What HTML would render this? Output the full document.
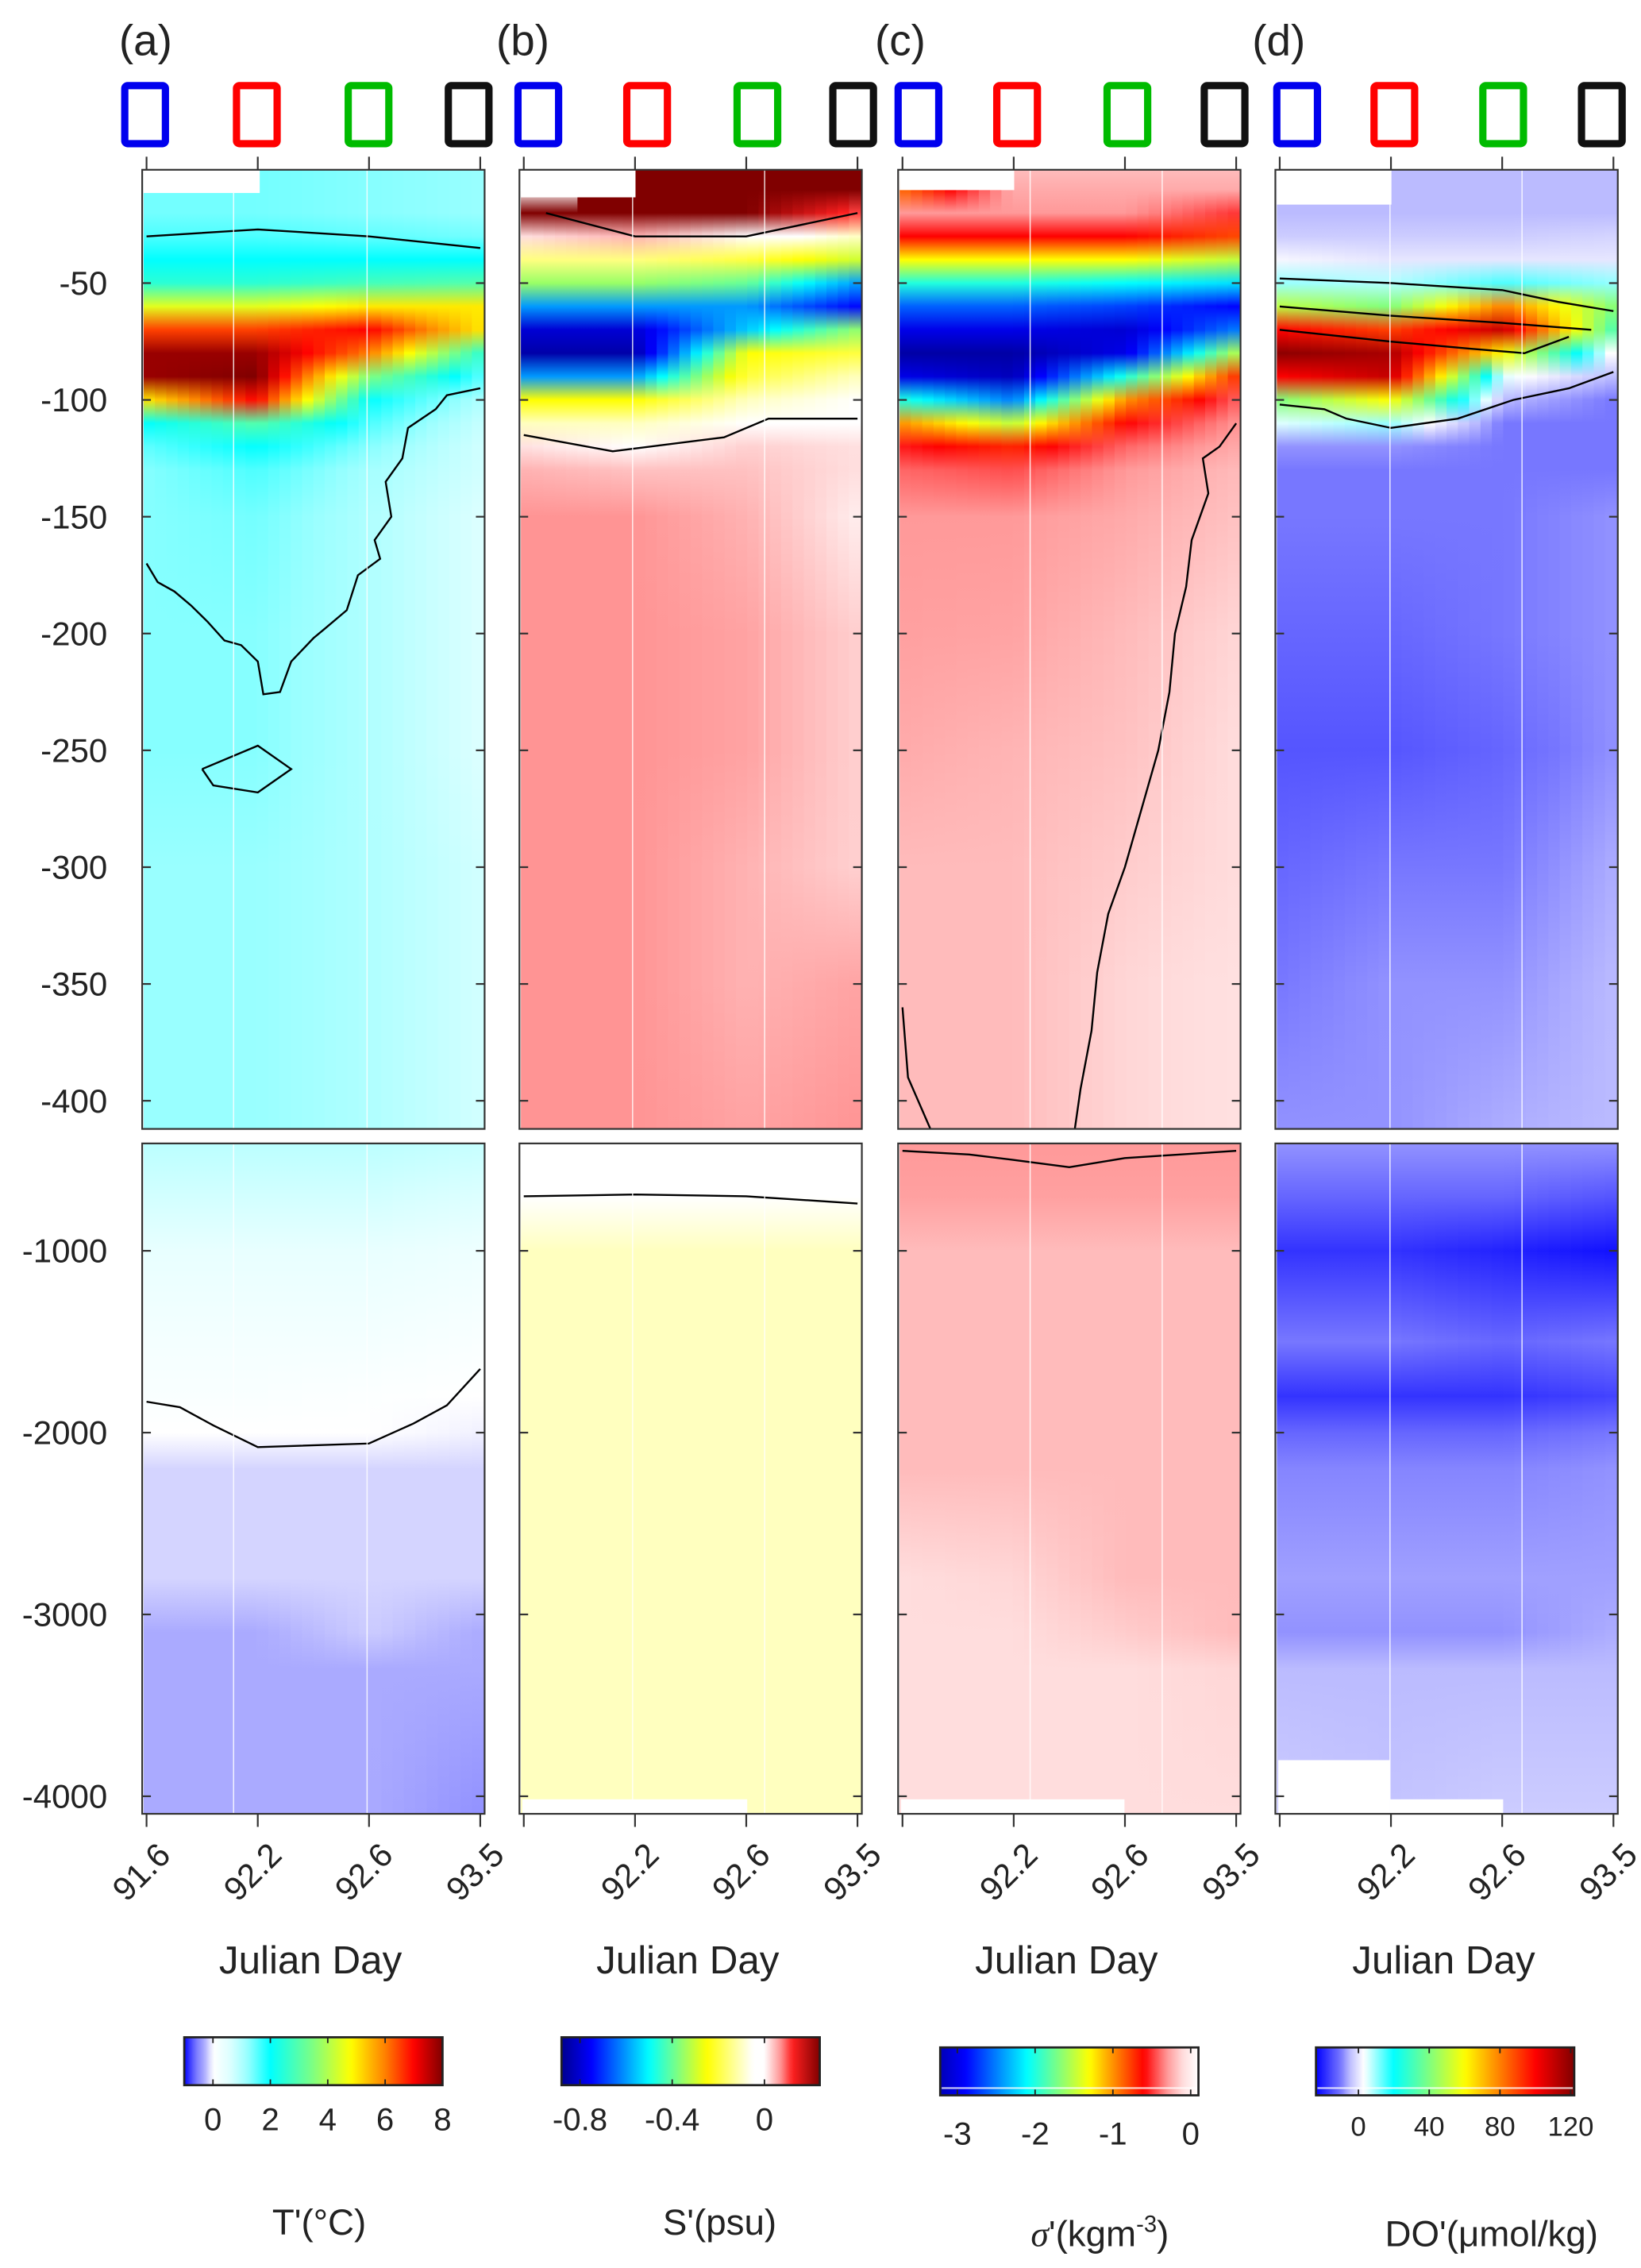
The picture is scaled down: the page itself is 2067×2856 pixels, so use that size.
<!DOCTYPE html>
<html><head><meta charset="utf-8"><style>
html,body{margin:0;padding:0;background:#fff;}
svg{display:block;font-family:"Liberation Sans","DejaVu Sans",sans-serif;}
</style></head><body>
<svg id="fig" xmlns="http://www.w3.org/2000/svg" width="2067" height="2856" viewBox="0 0 1131 1563" preserveAspectRatio="none">
<defs id="defs"></defs>
</svg>
<script>
// ---------- data ----------
const dayTicks = ['91.6','92.2','92.6','93.5'];
const topDepths = [2,10,20,30,40,50,60,70,80,90,100,110,120,130,150,200,250,300,350,412];
const botDepths = [410,700,1000,1500,1800,2000,2200,2800,3100,3300,4100];
const topYTicks = [-50,-100,-150,-200,-250,-300,-350,-400];
const botYTicks = [-1000,-2000,-3000,-4000];
const panelLetters = ['(a)','(b)','(c)','(d)'];

const tempTop = [
 [null,1.4,1.4,1.6,2,2.5,4.5,6.5,7.8,7.8,5,2,1.5,1.3,1.3,1.3,1.3,1.2,1.2,1.2],
 [1.4,1.4,1.4,1.6,2,2.5,4.5,6.5,7.8,8,7,3,2,1.6,1.4,1.3,1.3,1.2,1.2,1.2],
 [1.3,1.3,1.3,1.5,2,2.8,5,7,6,3.5,2,1.6,1.3,1.1,1.0,1.0,1.0,1.0,1.0,1.0],
 [1.2,1.2,1.2,1.4,2,3,5,5,2.5,1.5,1.0,0.8,0.7,0.7,0.6,0.6,0.6,0.7,0.7,0.7]];
const tempBot = [
 [0.9,0.7,0.4,0.2,0.1,0,-0.15,-0.15,-0.3,-0.3,-0.3],
 [0.9,0.7,0.4,0.2,0.1,0,-0.15,-0.15,-0.3,-0.3,-0.3],
 [0.9,0.7,0.4,0.2,0.05,0,-0.15,-0.15,-0.18,-0.3,-0.3],
 [0.8,0.6,0.3,0.1,0.0,-0.05,-0.15,-0.15,-0.3,-0.3,-0.45]];
const saltTop = [
 [null,null,0.24,0.02,-0.15,-0.35,-0.6,-0.8,-0.85,-0.6,-0.25,-0.1,0.02,0.05,0.07,0.07,0.07,0.07,0.07,0.07],
 [0.24,0.24,0.24,0.05,-0.15,-0.35,-0.6,-0.8,-0.85,-0.6,-0.25,-0.1,0.0,0.04,0.07,0.07,0.07,0.07,0.07,0.07],
 [0.24,0.24,0.24,0.0,-0.2,-0.4,-0.6,-0.55,-0.25,-0.2,-0.1,-0.05,0.03,0.04,0.05,0.06,0.06,0.05,0.05,0.06],
 [0.24,0.24,0.1,-0.1,-0.3,-0.6,-0.75,-0.35,-0.2,-0.1,-0.05,-0.05,0.02,0.02,0.01,0.03,0.03,0.03,0.06,0.07]];
const saltBot = [
 [0,-0.02,-0.1,-0.1,-0.1,-0.1,-0.1,-0.1,-0.1,-0.1,-0.1],
 [0,-0.02,-0.1,-0.1,-0.1,-0.1,-0.1,-0.1,-0.1,-0.1,-0.1],
 [0,-0.02,-0.1,-0.1,-0.1,-0.1,-0.1,-0.1,-0.1,-0.1,-0.1],
 [0,-0.02,-0.1,-0.1,-0.1,-0.1,-0.1,-0.1,-0.1,-0.1,-0.1]];
const sigTop = [
 [null,-0.9,-0.3,-0.6,-1.3,-2.0,-2.6,-3.0,-3.3,-3.0,-2.0,-1.0,-0.55,-0.4,-0.3,-0.28,-0.25,-0.2,-0.2,-0.2],
 [-0.2,-0.25,-0.3,-0.6,-1.3,-2.0,-2.6,-3.0,-3.3,-3.2,-2.5,-1.5,-0.7,-0.45,-0.3,-0.27,-0.22,-0.2,-0.2,-0.2],
 [-0.2,-0.25,-0.3,-0.6,-1.3,-2.1,-2.7,-3.1,-3.0,-2.0,-1.0,-0.6,-0.4,-0.3,-0.25,-0.2,-0.18,-0.15,-0.12,-0.12],
 [-0.2,-0.25,-0.5,-0.8,-1.5,-2.2,-2.9,-2.5,-1.5,-0.7,-0.4,-0.3,-0.25,-0.2,-0.18,-0.12,-0.1,-0.1,-0.08,-0.08]];
const sigBot = [
 [-0.3,-0.28,-0.2,-0.2,-0.2,-0.2,-0.2,-0.1,-0.1,-0.1,-0.1],
 [-0.3,-0.28,-0.2,-0.2,-0.2,-0.2,-0.2,-0.12,-0.1,-0.1,-0.1],
 [-0.3,-0.28,-0.2,-0.2,-0.2,-0.2,-0.2,-0.2,-0.15,-0.1,-0.1],
 [-0.3,-0.28,-0.2,-0.2,-0.2,-0.2,-0.2,-0.2,-0.2,-0.12,-0.1]];
const doTop = [
 [null,-5,-5,-3,2,10,50,100,120,100,40,5,-8,-10,-10,-12,-14,-12,-10,-8],
 [-5,-5,-5,-3,0,8,40,90,115,110,60,10,-8,-10,-10,-12,-14,-10,-8,-8],
 [-5,-5,-5,-3,0,15,80,110,60,5,-5,-10,-10,-10,-10,-10,-12,-10,-8,-6],
 [-5,-5,-5,-2,0,10,40,30,0,-5,-10,-10,-10,-10,-8,-8,-8,-6,-5,-5]];
const doBot = [
 [-8,-12,-18,-10,-18,-12,-9,-7,-8,-5,-3],
 [-8,-12,-18,-10,-18,-12,-9,-7,-8,-5,-4],
 [-8,-12,-20,-12,-18,-12,-9,-7,-8,-5,-3],
 [-8,-14,-22,-10,-16,-10,-8,-7,-6,-5,-3]];

const cmapT = [[-1,'#0000ff'],[-0.6,'#7777ff'],[-0.3,'#aaaaff'],[-0.15,'#d4d4ff'],[0,'#ffffff'],[0.6,'#ddffff'],[1.2,'#99ffff'],[2,'#00ffff'],[3.5,'#80ff80'],[4.8,'#ffff00'],[6,'#ff8000'],[7,'#ff0000'],[8,'#800000']];
const cmapS = [[-0.88,'#00008f'],[-0.75,'#0000ff'],[-0.5,'#00ffff'],[-0.25,'#ffff00'],[-0.05,'#ffffff'],[0,'#ffffff'],[0.03,'#ffd0d0'],[0.07,'#ff9494'],[0.12,'#ff2020'],[0.24,'#800000']];
const cmapC = [[-3.4,'#00008f'],[-2.9,'#0000ff'],[-2.1,'#00ffff'],[-1.3,'#ffff00'],[-0.6,'#ff0000'],[-0.3,'#ff9999'],[-0.2,'#ffbbbb'],[-0.1,'#ffdddd'],[0.1,'#ffffff']];
const cmapD = [[-24,'#0000ff'],[-10,'#7777ff'],[-5,'#bbbbff'],[3,'#ffffff'],[20,'#00ffff'],[60,'#ffff00'],[100,'#ff0000'],[122,'#800000']];

const cbTicksT = [0,2,4,6,8], cbRangeT = [-1,8];
const cbTicksS = [-0.8,-0.4,0], cbRangeS = [-0.88,0.24];
const cbTicksC = [-3,-2,-1,0], cbRangeC = [-3.22,0.1];
const cbTicksD = [0,40,80,120], cbRangeD = [-24,122];

// contours: [column-position (0..3), depth]
const contA1 = [[0,30],[1,27],[2,30],[3,35]];
const contA2 = [[3,95],[2.7,98],[2.6,104],[2.35,112],[2.3,125],[2.15,135],[2.2,150],[2.05,160],[2.1,168],[1.9,175],[1.8,190],[1.6,198],[1.5,202],[1.3,212],[1.2,225],[1.05,226],[1.0,212],[0.85,205],[0.7,203],[0.55,195],[0.4,188],[0.25,182],[0.1,178],[0,170]];
const contA3 = [[0.5,258],[1,248],[1.3,258],[1,268],[0.6,265],[0.5,258]];
const contA4 = [[0,1830],[0.3,1860],[0.6,1960],[1,2080],[2,2060],[2.4,1950],[2.7,1850],[3,1650]];
const contB1 = [[0.2,20],[1,30],[2,30],[3,20]];
const contB2 = [[0,115],[0.8,122],[1.8,116],[2.2,108],[3,108]];
const contB3 = [[0,700],[1,690],[2,700],[3,740]];
const contC1 = [[3,110],[2.85,120],[2.7,125],[2.75,140],[2.6,160],[2.55,180],[2.45,200],[2.4,225],[2.3,250],[2.15,275],[2.0,300],[1.85,320],[1.75,345],[1.7,370],[1.6,395],[1.55,412]];
const contC2 = [[0,360],[0.05,390],[0.25,412]];
const contC3 = [[0,450],[0.6,470],[1,500],[1.5,540],[2,490],[3,450]];
const contD1 = [[0,48],[1,50],[2,53],[2.5,58],[3,62]];
const contD2 = [[0,60],[1,64],[2,67],[2.8,70]];
const contD3 = [[0,70],[1,75],[1.7,78],[2.2,80],[2.6,73]];
const contD4 = [[0,102],[0.4,104],[0.6,108],[1,112],[1.6,108],[2.1,100],[2.6,95],[3,88]];

// ---------- helpers ----------
const NS='http://www.w3.org/2000/svg';
const svg=document.getElementById('fig'), defs=document.getElementById('defs');
function mk(tag,attrs,parent){const e=document.createElementNS(NS,tag);for(const k in attrs)e.setAttribute(k,attrs[k]);(parent||svg).appendChild(e);return e;}
function hex2rgb(h){return [parseInt(h.substr(1,2),16),parseInt(h.substr(3,2),16),parseInt(h.substr(5,2),16)];}
function color(cm,v){
  if(v===null)return '#ffffff';
  if(v<=cm[0][0])return cm[0][1];
  for(let i=1;i<cm.length;i++){if(v<=cm[i][0]){const t=(v-cm[i-1][0])/(cm[i][0]-cm[i-1][0]);const a=hex2rgb(cm[i-1][1]),b=hex2rgb(cm[i][1]);return 'rgb('+a.map((x,j)=>Math.round(x+(b[j]-x)*t)).join(',')+')';}}
  return cm[cm.length-1][1];
}
const panelX=[98,358,619,879], PW=236;
const gridX=[[161,253],[436,527],[710,801],[958,1049]];
const TOP0=117,TOP1=778,BOT0=788,BOT1=1250;
function yTop(d){return 114.6+d*1.61;}
function yBot(d){return 862+(d-1000)*0.1253;}
function xCol(p,u){return panelX[p]+3+u*(PW-6)/3;}
let gid=0;

function drawField(p,cols,depths,yf,cm,y0,y1,name){
  const N=30;
  const x0=panelX[p]+1,x1=panelX[p]+PW-1;
  for(let s=0;s<N;s++){
    const u=(s+0.5)/N*3;const i=Math.min(2,Math.floor(u)),t=u-i;
    const g=mk('linearGradient',{id:'g'+(gid++),gradientUnits:'userSpaceOnUse',x1:0,x2:0,y1:yf(depths[0]),y2:yf(depths[depths.length-1])},defs);
    depths.forEach((d,k)=>{
      const a=cols[i][k],b=cols[i+1][k];
      let v=(a===null||b===null)?((t<0.5?a:b)):a+(b-a)*t;
      const off=(yf(d)-yf(depths[0]))/(yf(depths[depths.length-1])-yf(depths[0]));
      mk('stop',{offset:off,'stop-color':color(cm,v)},g);
    });
    const r=mk('rect',{x:x0+(x1-x0)*s/N,y:y0,width:(x1-x0)/N+0.6,height:y1-y0,fill:'url(#'+g.id+')'});
    
    
  }
}
function drawContour(p,pts,yf,name){
  const d=pts.map((q,i)=>(i?'L':'M')+xCol(p,q[0]).toFixed(1)+' '+yf(q[1]).toFixed(1)).join(' ');
  const e=mk('path',{d:d,fill:'none',stroke:'#000','stroke-width':1.3});
  
  
}
function text(x,y,s,size,anchor,name,extra){
  const e=mk('text',Object.assign({x:x,y:y,'font-size':size,'text-anchor':anchor||'start',fill:'#222'},extra||{}));
  e.textContent=s;
  
  
  return e;
}
function frame(p,y0,y1,yticks,yf,labels,name){
  const x0=panelX[p],x1=x0+PW;
  gridX[p].forEach(x=>{const l=mk('line',{x1:x,x2:x,y1:y0,y2:y1,stroke:'#fff','stroke-width':0.8,opacity:0.85});});
  const r=mk('rect',{x:x0,y:y0,width:PW,height:y1-y0,fill:'none',stroke:'#333','stroke-width':1.2});
  
  
  yticks.forEach(v=>{const y=yf(-v);
    mk('line',{x1:x0,x2:x0+6,y1:y,y2:y,stroke:'#333','stroke-width':1.2});
    mk('line',{x1:x1-6,x2:x1,y1:y,y2:y,stroke:'#333','stroke-width':1.2});
    if(labels)text(74,y+8,String(v),23,'end','y-tick-label');
  });
}

// ---------- draw panels ----------
const fields=[[tempTop,tempBot,cmapT,'temperature'],[saltTop,saltBot,cmapS,'salinity'],[sigTop,sigBot,cmapC,'density'],[doTop,doBot,cmapD,'oxygen']];
fields.forEach((f,p)=>{
  drawField(p,f[0],topDepths,yTop,f[2],TOP0,TOP1,f[3]+'-upper');
  drawField(p,f[1],botDepths,yBot,f[2],BOT0,BOT1,f[3]+'-lower');
});
// white data gaps at top-left
[[0,117,178,133],[1,117,437,136],[2,117,698,131],[3,117,958,141]].forEach(g=>{const r=mk('rect',{x:panelX[g[0]]+1,y:g[1],width:g[2]-panelX[g[0]],height:g[3]-g[1],fill:'#fff'});});
[[1,360,1240,515,1250],[2,621,1240,775,1250],[3,881,1213,958,1250],[3,958,1240,1036,1250]].forEach(g=>{const r=mk('rect',{x:g[1],y:g[2],width:g[3]-g[1],height:g[4]-g[2],fill:'#fff'});});

drawContour(0,contA1,yTop,'contour-a1');drawContour(0,contA2,yTop,'contour-a2');drawContour(0,contA3,yTop,'contour-a3');drawContour(0,contA4,yBot,'contour-a4');
drawContour(1,contB1,yTop,'contour-b1');drawContour(1,contB2,yTop,'contour-b2');drawContour(1,contB3,yBot,'contour-b3');
drawContour(2,contC1,yTop,'contour-c1');drawContour(2,contC2,yTop,'contour-c2');drawContour(2,contC3,yBot,'contour-c3');
drawContour(3,contD1,yTop,'contour-d1');drawContour(3,contD2,yTop,'contour-d2');drawContour(3,contD3,yTop,'contour-d3');drawContour(3,contD4,yTop,'contour-d4');

const legendColors=['#0000ee','#ff0000','#00bb00','#111111'];
const legendX=[[84,161,238,307],[355,430,506,572],[617,685,761,828],[878,945,1020,1088]];
for(let p=0;p<4;p++){
  frame(p,TOP0,TOP1,topYTicks,yTop,p===0,'upper-axes');
  frame(p,BOT0,BOT1,botYTicks,yBot,p===0,'lower-axes');
  dayTicks.forEach((d,i)=>{const x=xCol(p,i);
    mk('line',{x1:x,x2:x,y1:TOP0-9,y2:TOP0,stroke:'#333','stroke-width':1.2});
    mk('line',{x1:x,x2:x,y1:BOT1,y2:BOT1+9,stroke:'#333','stroke-width':1.2});
    if(p===0||i>0){const t=text(x+6,1268,d,23,'end','x-tick-label',{transform:'rotate(-45 '+(x+6)+' 1268)'});t.setAttribute('dominant-baseline','hanging');}
  });
  text(panelX[p]+PW/2-2,1360,'Julian Day',27,'middle','x-axis-title');
  text(panelX[p]-16,38,panelLetters[p],30,'start','panel-label');
  legendX[p].forEach((x,i)=>{const r=mk('rect',{x:x+2,y:59,width:28,height:40,rx:2,fill:'none',stroke:legendColors[i],'stroke-width':5});});
}

// ---------- colorbars ----------
const cbs=[[cmapT,cbRangeT,cbTicksT,127,1404,'T\'(°C)',1540,1468,220],[cmapS,cbRangeS,cbTicksS,387,1404,'S\'(psu)',1540,1468,496],[cmapC,cbRangeC,cbTicksC,648,1411,'',1548,1478,0],[cmapD,cbRangeD,cbTicksD,907,1411,'DO\'(μmol/kg)',1548,1472,1028]];
cbs.forEach((c,k)=>{
  const [cm,rg,ticks,x0,y0,label,ly,ty,lx]=c;const w=178,h=33;
  const g=mk('linearGradient',{id:'cb'+k,x1:0,x2:1,y1:0,y2:0},defs);
  for(let i=0;i<=60;i++){const v=rg[0]+(rg[1]-rg[0])*i/60;mk('stop',{offset:i/60,'stop-color':color(cm,v)},g);}
  const r=mk('rect',{x:x0,y:y0,width:w,height:h,fill:'url(#cb'+k+')',stroke:'#222','stroke-width':1.5});
  
  
  if(k>=2){mk('line',{x1:x0+1,x2:x0+w-1,y1:y0+h-5,y2:y0+h-5,stroke:'#fff','stroke-width':1.2,opacity:0.8});}
  const fx=v=>x0+(v-rg[0])/(rg[1]-rg[0])*w;
  ticks.forEach(v=>{mk('line',{x1:fx(v),x2:fx(v),y1:y0,y2:y0+4,stroke:'#222'});mk('line',{x1:fx(v),x2:fx(v),y1:y0+h-4,y2:y0+h,stroke:'#222'});
    text(fx(v),ty,String(v),k===3?19:22,'middle','colorbar-tick-label');});
  if(label)text(lx,ly,label,25,'middle','colorbar-title');
});
const st=text(758,1548,'',25,'middle','colorbar-title');
st.innerHTML='<tspan font-style="italic" font-family="Liberation Serif">σ</tspan>\'(kgm<tspan dy="-10" font-size="16">-3</tspan><tspan dy="10">)</tspan>';
</script>
</body></html>
